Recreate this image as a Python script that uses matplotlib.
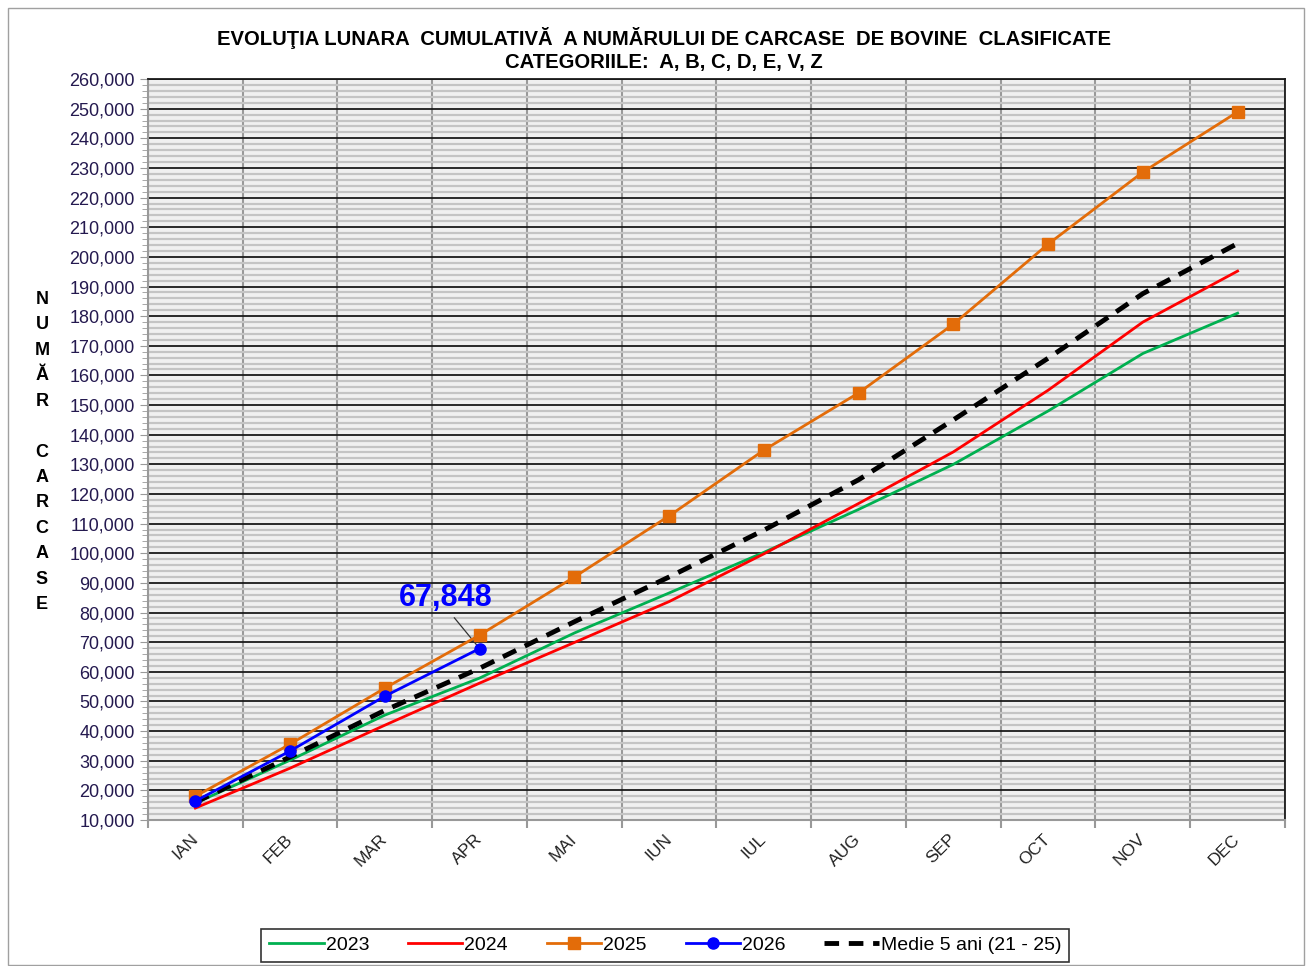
import matplotlib
matplotlib.use("Agg")
import matplotlib.pyplot as plt
import numpy as np
from matplotlib.ticker import FuncFormatter, MultipleLocator
from matplotlib.patches import Rectangle

months = ["IAN", "FEB", "MAR", "APR", "MAI", "IUN", "IUL", "AUG", "SEP", "OCT", "NOV", "DEC"]

y2023 = [15700, 30200, 45400, 57900, 73100, 86600, 100300, 114800, 130000, 148000, 167400, 181000]
y2024 = [14050, 27500, 42000, 56200, 69900, 83700, 99800, 116800, 134200, 155000, 178000, 195200]
y2025 = [18000, 35600, 54500, 72400, 92000, 112600, 134800, 154100, 177300, 204300, 228600, 248900]
y2026 = [16400, 33300, 51800, 67848]
medie = [16000, 31300, 47000, 61200, 76900, 92000, 107800, 124800, 145000, 165800, 187600, 204500]

plt.rcParams["font.family"] = ["Liberation Sans", "DejaVu Sans"]

fig = plt.figure(figsize=(13.12, 9.66), dpi=100)
fig.patches.append(Rectangle((0.006, 0.001), 0.988, 0.991, transform=fig.transFigure,
                             fill=False, edgecolor="#a0a0a0", lw=1))
ax = fig.add_axes([0.1128, 0.1511, 0.8666, 0.7671])
ax.set_facecolor("#f0f0f0")

x = np.arange(len(months))
ax.set_xlim(-0.5, 11.5)
ax.set_ylim(10000, 260000)

ax.yaxis.set_major_locator(MultipleLocator(10000))
ax.yaxis.set_minor_locator(MultipleLocator(2000))
ax.yaxis.set_major_formatter(FuncFormatter(lambda v, p: f"{int(v):,}"))
ax.grid(which="minor", axis="y", color="#c4c4c4", lw=1.6, zorder=0)
ax.grid(which="major", axis="y", color="#1a1a1a", lw=1.3, zorder=1)

ax.set_xticks(x)
ax.set_xticklabels(months, rotation=45, ha="right", va="center", rotation_mode="anchor",
                   fontsize=12.5, color="#222222")
ax.set_xticks(np.arange(-0.5, 12, 1), minor=True)
ax.grid(which="minor", axis="x", color="#999999", lw=1.5, zorder=1)
ax.tick_params(axis="x", which="major", length=0, pad=12)
ax.tick_params(axis="x", which="minor", length=6, color="#999999", width=1.5)
ax.tick_params(axis="y", which="major", length=6, color="#999999", labelsize=13, labelcolor="#24194f")
ax.tick_params(axis="y", which="minor", length=4, color="#999999")

for s in ["left", "bottom"]:
    ax.spines[s].set_color("#999999")
    ax.spines[s].set_linewidth(1.5)
for s in ["top", "right"]:
    ax.spines[s].set_color("#1a1a1a")
    ax.spines[s].set_linewidth(1.3)

ax.plot(x, y2023, color="#00b050", lw=2, label="2023", zorder=3)
ax.plot(x, y2024, color="#ff0000", lw=2, label="2024", zorder=3)
ax.plot(x, y2025, color="#e36c09", lw=2, marker="s", ms=8, label="2025", zorder=4)
ax.plot(x[:len(y2026)], y2026, color="#0000ff", lw=2, marker="o", ms=8, label="2026", zorder=5)
ax.plot(x, medie, color="black", lw=3.5, ls=(0, (3, 2)), label="Medie 5 ani (21 - 25)", zorder=4)

ax.annotate(f"{y2026[-1]:,}", xy=(x[3], y2026[-1]), xytext=(2.64, 85000),
            fontsize=22, fontweight="bold", color="#0000ff", ha="center", va="center",
            arrowprops=dict(arrowstyle="-", color="#333333", lw=0.9, shrinkA=2, shrinkB=3,
                            relpos=(0.55, 0.0)))

fig.text(0.506, 0.961, "EVOLUŢIA LUNARA  CUMULATIVĂ  A NUMĂRULUI DE CARCASE  DE BOVINE  CLASIFICATE",
         ha="center", va="center", fontsize=14.6, fontweight="bold")
fig.text(0.506, 0.935, "CATEGORIILE:  A, B, C, D, E, V, Z",
         ha="center", va="center", fontsize=14.6, fontweight="bold")

ylabel = "\n".join(list("NUMĂR CARCASE"))
fig.text(0.032, 0.532, ylabel, ha="center", va="center", fontsize=13, fontweight="bold",
         linespacing=1.65)

leg = fig.legend(loc="center", bbox_to_anchor=(0.507, 0.0215), ncol=5, frameon=True,
                 fancybox=False, edgecolor="black", fontsize=14, handlelength=2.8,
                 columnspacing=2.0, handletextpad=0.1, borderpad=0.4)
leg.get_frame().set_linewidth(1.2)

fig.savefig("out.png", dpi=100)
